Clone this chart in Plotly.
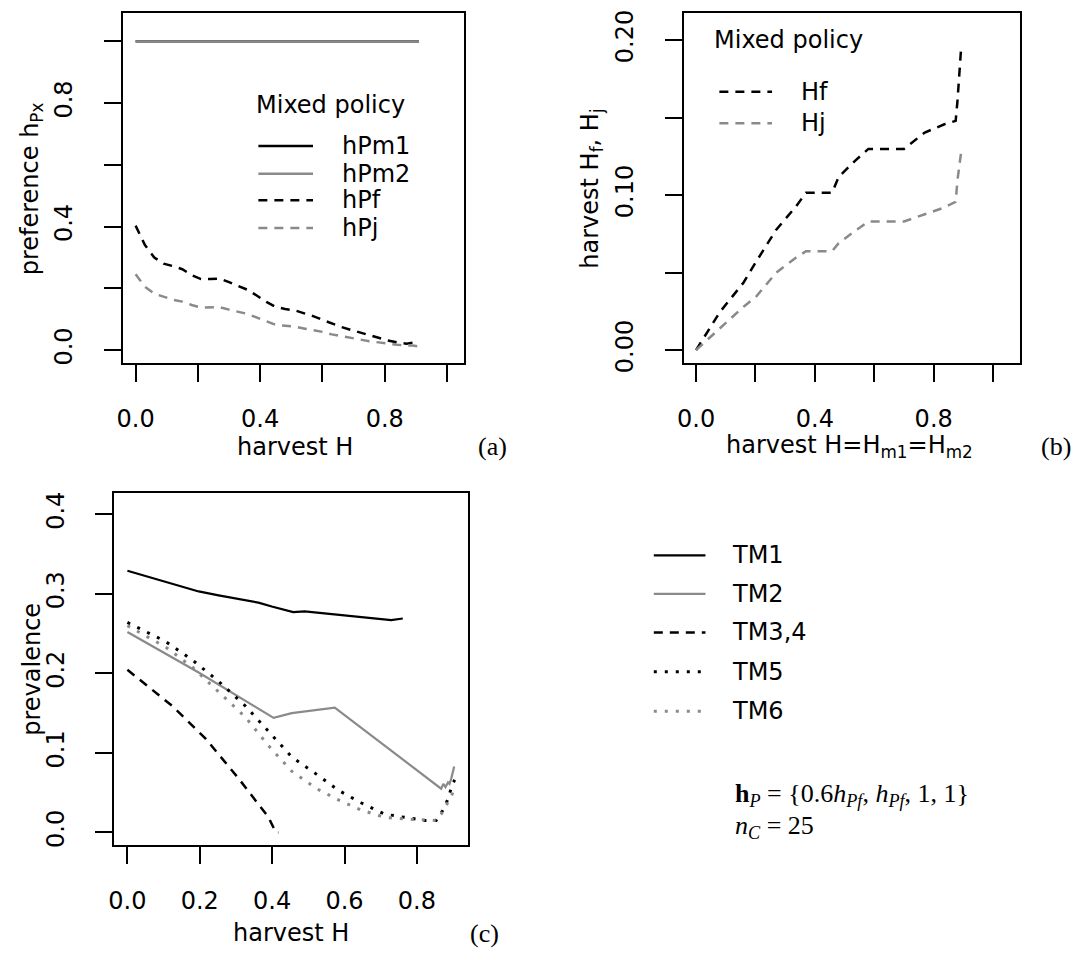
import plotly.graph_objects as go

W, H = 1086, 964

# ---------------- data ----------------
# panel (a): preferences vs harvest H
H_a = [0, 0.03, 0.06, 0.09, 0.12, 0.15, 0.18, 0.21, 0.24, 0.27, 0.30, 0.33, 0.36, 0.39,
       0.42, 0.45, 0.48, 0.51, 0.54, 0.57, 0.60, 0.63, 0.66, 0.69, 0.72, 0.75, 0.78,
       0.81, 0.84, 0.87, 0.89, 0.91]
hPm1 = [1.0] * len(H_a)
hPm2 = [1.0] * len(H_a)
hPf = [0.403, 0.34, 0.30, 0.28, 0.272, 0.262, 0.243, 0.23, 0.23, 0.232, 0.22, 0.207,
       0.195, 0.176, 0.156, 0.14, 0.133, 0.129, 0.12, 0.11, 0.098, 0.086, 0.075, 0.066,
       0.057, 0.048, 0.04, 0.031, 0.025, 0.021, 0.024, 0.018]
hPj = [0.246, 0.205, 0.183, 0.172, 0.163, 0.157, 0.146, 0.138, 0.138, 0.139, 0.131,
       0.124, 0.117, 0.105, 0.093, 0.082, 0.079, 0.076, 0.07, 0.065, 0.059, 0.051, 0.045,
       0.039, 0.034, 0.029, 0.025, 0.02, 0.017, 0.015, 0.015, 0.012]

# panel (b): harvest of females / juveniles vs H = Hm1 = Hm2
H_b = [0, 0.08, 0.16, 0.20, 0.27, 0.336, 0.37, 0.458, 0.48, 0.536, 0.58, 0.70, 0.77,
       0.836, 0.874, 0.88, 0.893]
Hf = [0, 0.0245, 0.0436, 0.0564, 0.0777, 0.0926, 0.1015, 0.1015, 0.1117, 0.1223, 0.1298,
      0.1298, 0.1404, 0.1457, 0.1479, 0.1606, 0.1968]
Hj = [0, 0.0138, 0.028, 0.034, 0.050, 0.0596, 0.0638, 0.0638, 0.069, 0.077, 0.083, 0.083,
      0.0875, 0.092, 0.0957, 0.1096, 0.1287]

# panel (c): prevalence vs harvest H
H_tm1 = [0, 0.096, 0.197, 0.252, 0.362, 0.399, 0.458, 0.49, 0.582, 0.637, 0.701, 0.729, 0.761]
TM1 = [0.329, 0.316, 0.303, 0.298, 0.289, 0.284, 0.277, 0.278, 0.274, 0.271, 0.268, 0.267, 0.269]
H_tm2 = [0, 0.197, 0.404, 0.454, 0.573, 0.867, 0.873, 0.879, 0.886, 0.89, 0.895, 0.903]
TM2 = [0.252, 0.201, 0.144, 0.150, 0.157, 0.055, 0.061, 0.057, 0.063, 0.061, 0.068, 0.083]
H_tm34 = [0, 0.124, 0.216, 0.307, 0.39, 0.41, 0.417]
TM34 = [0.2045, 0.159, 0.118, 0.068, 0.019, 0.0, 0.0]
H_tm56 = [0, 0.106, 0.179, 0.252, 0.326, 0.39, 0.454, 0.523, 0.583, 0.647, 0.711, 0.766,
          0.821, 0.853, 0.872, 0.885, 0.899, 0.905]
TM5 = [0.264, 0.24, 0.217, 0.19, 0.159, 0.127, 0.095, 0.073, 0.053, 0.037, 0.023, 0.019,
       0.015, 0.015, 0.028, 0.041, 0.062, 0.066]
TM6 = [0.26, 0.233, 0.208, 0.177, 0.145, 0.109, 0.077, 0.055, 0.041, 0.028, 0.019, 0.017,
       0.016, 0.015, 0.026, 0.037, 0.05, 0.055]

# ---------------- styling ----------------
SANS = "DejaVu Sans"
SERIF = "Liberation Serif"
FS = 24
BLACK = "#000000"
GRAY = "#8a8a8a"
DASH = "9px,7px"
DOT = "3px,8px"


def px(x):
    return x / W


def py(y):
    return 1 - y / H


fig = go.Figure()

# panel (a)
fig.add_trace(go.Scatter(x=H_a, y=hPm1, mode="lines", line=dict(color=BLACK, width=2.2), xaxis="x", yaxis="y"))
fig.add_trace(go.Scatter(x=H_a, y=hPm2, mode="lines", line=dict(color=GRAY, width=2.2), xaxis="x", yaxis="y"))
fig.add_trace(go.Scatter(x=H_a, y=hPf, mode="lines", line=dict(color=BLACK, width=2.5, dash=DASH), xaxis="x", yaxis="y"))
fig.add_trace(go.Scatter(x=H_a, y=hPj, mode="lines", line=dict(color=GRAY, width=2.5, dash=DASH), xaxis="x", yaxis="y"))

# panel (b)
fig.add_trace(go.Scatter(x=H_b, y=Hf, mode="lines", line=dict(color=BLACK, width=2.5, dash=DASH), xaxis="x2", yaxis="y2"))
fig.add_trace(go.Scatter(x=H_b, y=Hj, mode="lines", line=dict(color=GRAY, width=2.5, dash=DASH), xaxis="x2", yaxis="y2"))

# panel (c)
fig.add_trace(go.Scatter(x=H_tm1, y=TM1, mode="lines", line=dict(color=BLACK, width=2.2), xaxis="x3", yaxis="y3"))
fig.add_trace(go.Scatter(x=H_tm2, y=TM2, mode="lines", line=dict(color=GRAY, width=2.2), xaxis="x3", yaxis="y3"))
fig.add_trace(go.Scatter(x=H_tm34, y=TM34, mode="lines", line=dict(color=BLACK, width=2.5, dash=DASH), xaxis="x3", yaxis="y3"))
fig.add_trace(go.Scatter(x=H_tm56, y=TM5, mode="lines", line=dict(color=BLACK, width=3, dash=DOT), xaxis="x3", yaxis="y3"))
fig.add_trace(go.Scatter(x=H_tm56, y=TM6, mode="lines", line=dict(color=GRAY, width=3, dash=DOT), xaxis="x3", yaxis="y3"))

axis_common = dict(showline=True, mirror=True, linecolor=BLACK, linewidth=2, ticks="outside",
                   ticklen=17, tickwidth=2, tickcolor=BLACK, showgrid=False, zeroline=False,
                   tickfont=dict(family=SANS, size=FS, color=BLACK))
XSO = 16   # x tick label standoff
YSO = 22   # y tick label standoff

x_ab_ticks = [0, 0.2, 0.4, 0.6, 0.8, 1.0]
x_ab_text = ["0.0", "", "0.4", "", "0.8", ""]

fig.update_layout(
    width=W, height=H, showlegend=False,
    paper_bgcolor="white", plot_bgcolor="white",
    margin=dict(l=0, r=0, t=0, b=0),
    xaxis=dict(domain=[px(116.7), px(460)], range=[-0.0406, 1.0546], tickvals=x_ab_ticks,
               ticktext=x_ab_text, anchor="y", ticklabelstandoff=XSO, **axis_common),
    yaxis=dict(domain=[py(365), py(10)], range=[-0.042, 1.092],
               tickvals=[0, 0.2, 0.4, 0.6, 0.8, 1.0], ticktext=["0.0", "", "0.4", "", "0.8", ""],
               tickangle=-90, anchor="x", ticklabelstandoff=YSO, **axis_common),
    xaxis2=dict(domain=[px(681), px(1020)], range=[-0.042, 1.092], tickvals=x_ab_ticks,
                ticktext=x_ab_text, anchor="y2", ticklabelstandoff=XSO, **axis_common),
    yaxis2=dict(domain=[py(365), py(10)], range=[-0.0084, 0.2176],
                tickvals=[0, 0.05, 0.1, 0.15, 0.2], ticktext=["0.00", "", "0.10", "", "0.20"],
                tickangle=-90, anchor="x2", ticklabelstandoff=YSO, **axis_common),
    xaxis3=dict(domain=[px(108), px(464)], range=[-0.0362, 0.9412],
                tickvals=[0, 0.2, 0.4, 0.6, 0.8], ticktext=["0.0", "0.2", "0.4", "0.6", "0.8"],
                anchor="y3", ticklabelstandoff=XSO, **axis_common),
    yaxis3=dict(domain=[py(854), py(497)], range=[-0.0164, 0.4264],
                tickvals=[0, 0.1, 0.2, 0.3, 0.4], ticktext=["0.0", "0.1", "0.2", "0.3", "0.4"],
                tickangle=-90, anchor="x3", ticklabelstandoff=YSO, **axis_common),
)

annotations = []
shapes = []


def text(x, y, s, size=FS, family=SANS, angle=0, xanchor="center"):
    annotations.append(dict(x=px(x), y=py(y), xref="paper", yref="paper", text=s,
                            showarrow=False, textangle=angle, xanchor=xanchor, yanchor="middle",
                            font=dict(family=family, size=size, color=BLACK)))


def legline(x0, x1, y, color, dash=None, width=2.5):
    ln = dict(color=color, width=width)
    if dash:
        ln["dash"] = dash
    shapes.append(dict(type="line", xref="paper", yref="paper", x0=px(x0), x1=px(x1),
                       y0=py(y), y1=py(y), line=ln))


# axis titles and panel tags
text(25, 188, "preference h<sub>Px</sub>", angle=-90)
text(290, 450, "harvest H")
text(489, 450, "(a)", size=26, family=SERIF)
text(588, 188, "harvest H<sub>f</sub>, H<sub>j</sub>", angle=-90)
text(848, 450, "harvest H=H<sub>m1</sub>=H<sub>m2</sub>")
text(1056, 450, "(b)", size=26, family=SERIF)
text(25, 675, "prevalence", angle=-90)
text(286, 943, "harvest H")
text(481, 943, "(c)", size=26, family=SERIF)

# legend (a)
text(326, 103, "Mixed policy")
leg_a = [("hPm1", BLACK, None, 145), ("hPm2", GRAY, None, 173), ("hPf", BLACK, DASH, 200), ("hPj", GRAY, DASH, 228)]
for lab, col, dsh, yy in leg_a:
    legline(253, 308, yy, col, dsh)
    text(335, yy, lab, xanchor="left")

# legend (b)
text(787, 37, "Mixed policy")
legline(717, 770, 90, BLACK, DASH)
text(797, 90, "Hf", xanchor="left")
legline(717, 770, 122, GRAY, DASH)
text(797, 122, "Hj", xanchor="left")

# legend (c)
leg_c = [("TM1", BLACK, None, 2.2, 560), ("TM2", GRAY, None, 2.2, 599), ("TM3,4", BLACK, DASH, 2.5, 638),
         ("TM5", BLACK, DOT, 3, 678), ("TM6", GRAY, DOT, 3, 718)]
for lab, col, dsh, wd, yy in leg_c:
    legline(651, 703, yy, col, dsh, wd)
    text(728, yy, lab, xanchor="left")

text(731, 803, "<b>h</b><sub><i>P</i></sub> = {0.6<i>h</i><sub><i>Pf</i></sub>, <i>h</i><sub><i>Pf</i></sub>, 1, 1}",
     size=26, family=SERIF, xanchor="left")
text(731, 835, "<i>n</i><sub><i>C</i></sub> = 25", size=26, family=SERIF, xanchor="left")

fig.update_layout(annotations=annotations, shapes=shapes)
fig.write_html("out.html", config={"displayModeBar": False},
               post_script="document.body.style.margin='0';document.body.style.overflow='hidden';")
